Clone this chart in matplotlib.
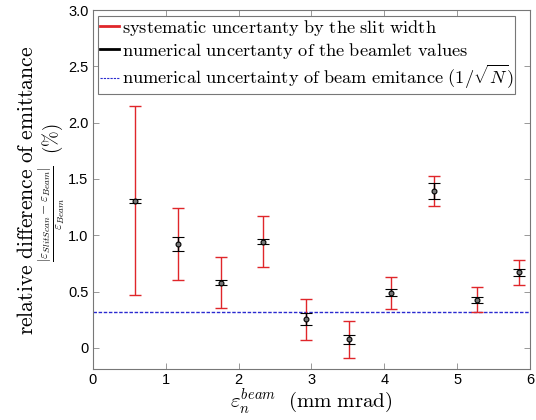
import numpy as np
import matplotlib
matplotlib.use('Agg')
import matplotlib.pyplot as plt
from matplotlib.lines import Line2D

# 数値データ
beam_emittance = [0.585, 1.17, 1.755, 2.34, 2.925, 3.51, 4.095, 4.68, 5.265, 5.85]
rel_difference = [1.305, 0.923, 0.580, 0.943, 0.252, 0.075, 0.487, 1.393, 0.428, 0.669]
systematic_err = [0.84, 0.32, 0.23, 0.225, 0.18, 0.165, 0.143, 0.135, 0.11, 0.108]
numerical_err = [0.02, 0.062, 0.018, 0.024, 0.053, 0.037, 0.031, 0.074, 0.027, 0.034]
beam_uncertainty = 100.0 / np.sqrt(1e5)   # 1/sqrt(N)

plt.rcParams['mathtext.fontset'] = 'cm'
plt.rcParams['font.family'] = ['Liberation Sans', 'DejaVu Sans']

fig = plt.figure(figsize=(5.36, 4.2), dpi=100)
ax = fig.add_axes([0.173, 0.121, 0.816, 0.855])

# 1/sqrt(N) の線
ax.axhline(beam_uncertainty, color='#2a2ad0', linestyle=(0, (2.5, 1.2)), linewidth=1.0, zorder=1)

# 系統誤差（赤）
ax.errorbar(beam_emittance, rel_difference, yerr=systematic_err, fmt='none',
            ecolor='#e0262a', elinewidth=1.0, capsize=4, capthick=1.0, zorder=2)
# 数値誤差（黒）
ax.errorbar(beam_emittance, rel_difference, yerr=numerical_err, fmt='o',
            color='black', markersize=3.5, markerfacecolor='#777777', markeredgecolor='black',
            markeredgewidth=0.8, ecolor='black', elinewidth=1.0, capsize=4, capthick=1.0, zorder=3)

ax.set_xlim(0, 6)
ax.set_ylim(-0.19, 3.0)
ax.set_xticks(range(0, 7))
ax.set_yticks(np.arange(0, 3.01, 0.5))
ax.set_yticklabels(['0'] + ['%.1f' % v for v in np.arange(0.5, 3.01, 0.5)])
ax.tick_params(direction='in', top=True, right=True, length=4, width=0.6,
               color='#888888', labelsize=10.5, pad=3)
for sp in ax.spines.values():
    sp.set_color('#777777')
    sp.set_linewidth(0.8)

ax.set_xlabel(r'$\varepsilon_n^{beam}\ \ \mathrm{(mm\ mrad)}$', fontsize=15, labelpad=0)

# y軸ラベル（2行）
fig.text(28 / 536, 1 - 190 / 420, r'$\mathrm{relative\ difference\ of\ emittance}$',
         rotation=90, fontsize=15.5, ha='center', va='center')
fig.text(52 / 536, 1 - 193 / 420,
         r'$\frac{|\varepsilon_{SlitScan}-\varepsilon_{Beam}|}{\varepsilon_{Beam}}\ \ \mathrm{(\%)}$',
         rotation=90, fontsize=13.5, ha='center', va='center')

handles = [Line2D([], [], color='#e0262a', linewidth=2),
           Line2D([], [], color='black', linewidth=2),
           Line2D([], [], color='#2a2ad0', linewidth=0.8, linestyle=(0, (2, 1)))]
labels = [r'$\mathrm{systematic\ uncertanty\ by\ the\ slit\ width}$',
          r'$\mathrm{numerical\ uncertanty\ of\ the\ beamlet\ values}$',
          r'$\mathrm{numerical\ uncertainty\ of\ beam\ emitance}\ (1/\sqrt{N})$']
leg = ax.legend(handles, labels, loc='upper left', fontsize=13.2, handlelength=1.0,
                handletextpad=0.15, borderpad=0.12, labelspacing=0.15, borderaxespad=0.3,
                fancybox=False, framealpha=1, edgecolor='#777777')
leg.get_frame().set_linewidth(0.8)

fig.savefig('out.png', dpi=100)
